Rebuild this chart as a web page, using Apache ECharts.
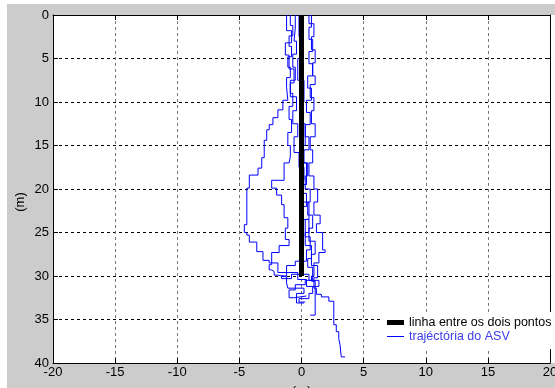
<!DOCTYPE html>
<html>
<head>
<meta charset="utf-8">
<script src="https://cdn.jsdelivr.net/npm/echarts@6/dist/echarts.min.js"></script>
<style>
  html, body { margin: 0; padding: 0; background: #fff; }
  #wrap { position: relative; width: 555px; height: 388px; background: #fff; overflow: hidden; }
  #chart { position: absolute; left: 7px; top: 4px; width: 548px; height: 384px; }
</style>
</head>
<body>
<div id="wrap"><div id="chart"></div></div>
<script>
// ---- data (metres) ----
const xTicks = [-20, -15, -10, -5, 0, 5, 10, 15, 20]
const yTicks = [0, 5, 10, 15, 20, 25, 30, 35, 40]

// linha recta entre os dois pontos
const straightLine = [[0, 0], [0, 30]]

// passagens do ASV
const passLeftOuter = [
  [-0.9, 0], [-0.7, 1.2], [-1.0, 2.4], [-0.8, 3.6], [-1.1, 4.8], [-0.9, 6.0], [-1.2, 7.2],
  [-1.1, 8.3], [-1.5, 9.8], [-1.9, 10.9], [-2.3, 11.8], [-2.6, 12.6], [-2.8, 13.2], [-3.0, 14.4],
  [-3.2, 16.4], [-3.5, 17.6], [-4.2, 18.4], [-4.4, 19.9], [-4.6, 24.1], [-4.4, 25.0], [-4.2, 25.3],
  [-3.6, 26.1], [-3.1, 27.2], [-2.6, 28.2], [-1.9, 28.5], [-0.3, 29.6], [0.4, 30.4], [0.9, 31.2],
  [0.6, 32.0], [-0.2, 32.6], [0.3, 33.0]
]
const passLeftInner = [
  [-0.5, 0], [-0.6, 1.5], [-0.4, 3.0], [-0.7, 4.5], [-0.5, 6.0], [-0.9, 7.5], [-0.7, 9.0],
  [-1.0, 10.5], [-0.8, 12.0], [-1.1, 13.5], [-0.9, 15.0], [-1.0, 16.3], [-1.4, 17.0], [-2.4, 19.0],
  [-2.0, 19.9], [-1.6, 20.7], [-1.4, 21.8], [-1.1, 23.3], [-1.3, 24.5], [-1.0, 25.8], [-1.8, 26.5],
  [-2.4, 27.3], [-2.6, 28.7], [-2.4, 29.3], [-2.2, 29.5], [-1.9, 29.9], [-1.2, 30.1], [-1.1, 30.8],
  [-0.7, 31.4], [0.2, 31.4], [-0.4, 32.0], [-0.4, 33.1], [0.2, 33.1]
]
const passRightEnd = [
  [0.8, 0], [0.6, 1.4], [0.9, 2.8], [0.6, 4.2], [0.9, 5.6], [0.5, 7.0], [0.8, 8.4], [0.4, 9.8],
  [0.7, 11.2], [0.3, 12.6], [0.6, 14.0], [0.2, 15.5], [0.5, 17.0], [0.3, 18.5], [0.7, 20.0],
  [0.5, 21.5], [0.9, 23.0], [0.6, 24.5], [1.1, 26.0], [0.8, 27.5], [1.3, 28.8], [1.0, 30.2],
  [1.2, 31.4], [1.6, 32.1], [2.2, 32.4], [2.6, 32.9], [2.6, 34.3], [2.8, 35.6], [3.0, 36.4],
  [3.1, 37.2], [3.2, 37.9], [3.5, 39.3]
]
const passRight = [
  [0.6, 0], [1.0, 1.0], [0.8, 2.5], [1.1, 4.0], [0.9, 5.5], [1.1, 7.0], [0.7, 8.0], [1.0, 9.5],
  [0.8, 11.0], [1.1, 12.5], [0.7, 14.0], [0.9, 15.5], [0.6, 17.0], [1.0, 18.5], [1.3, 20.0],
  [1.0, 21.5], [1.5, 23.0], [1.2, 24.0], [1.7, 25.0], [1.9, 27.0], [1.4, 27.3], [1.0, 28.5],
  [0.8, 30.0], [1.1, 30.6], [1.1, 34.5], [0.7, 34.5]
]
const passCentreLeft = [
  [-1.2, 0], [-0.8, 1.8], [-1.3, 3.2], [-1.0, 4.6], [-0.6, 6.2], [-0.9, 7.8], [-0.4, 9.4],
  [-0.7, 11.0], [-0.3, 12.5], [-0.6, 14.0], [-0.2, 15.8], [0.2, 17.5], [-0.1, 19.0], [0.4, 20.5],
  [0.1, 22.0], [0.6, 23.5], [0.3, 25.0], [0.8, 26.5], [0.5, 28.0], [0.9, 29.0], [0.3, 30.5],
  [-0.5, 31.0], [-1.0, 31.6], [-0.6, 32.5], [0.4, 32.3]
]
const passCentre = [
  [-0.2, 0], [0.1, 2.5], [-0.3, 5.0], [0.2, 7.5], [-0.1, 10.0], [0.3, 12.5], [0.0, 15.0],
  [0.4, 17.0], [0.1, 19.5], [0.6, 21.5], [0.3, 23.5], [0.7, 25.5], [0.4, 27.0], [-0.5, 28.3],
  [-1.2, 28.8], [-1.6, 30.0], [-0.8, 30.3], [0.6, 29.8], [1.4, 30.5], [0.9, 31.2]
]
const asvPasses = [passLeftOuter, passLeftInner, passRightEnd, passRight, passCentreLeft, passCentre]

const NAME_LINE = 'linha entre os dois pontos'
const NAME_ASV = 'trajéctória do ASV'
const FONT = '"Liberation Sans", Arial, sans-serif'

// ---- chart ----
const chart = echarts.init(document.getElementById('chart'))

const dashed = (color) => ({ show: true, lineStyle: { color: color, type: [3, 3], width: 1 } })
const tickInside = { show: true, inside: true, length: 5, lineStyle: { color: '#000' } }
const solidLine = { show: true, onZero: false, lineStyle: { color: '#000', width: 1 } }

const asvSeries = asvPasses.map((pts) => ({
  name: NAME_ASV,
  type: 'line',
  step: 'start',
  data: pts,
  showSymbol: false,
  symbol: 'none',
  silent: true,
  lineStyle: { color: '#0000ff', width: 1 },
  itemStyle: { color: '#0000ff' },
}))

chart.setOption({
  backgroundColor: '#cccccc',
  animation: false,
  textStyle: { fontFamily: FONT },
  grid: {
    left: 46, top: 11, right: 5, bottom: 25,
    outerBoundsMode: 'none',
    show: true, backgroundColor: '#fff', borderWidth: 0,
  },
  legend: {
    left: 376,
    top: 308,
    orient: 'vertical',
    backgroundColor: '#fff',
    padding: [4, 4, 6, 4],
    itemGap: 1,
    itemWidth: 17,
    itemHeight: 12,
    symbolKeepAspect: true,
    selectedMode: false,
    textStyle: { fontSize: 12.5, fontFamily: FONT },
    data: [
      { name: NAME_LINE, icon: 'path://M0,0H17V5H0Z', itemStyle: { color: '#000' }, textStyle: { color: '#000' } },
      { name: NAME_ASV, icon: 'path://M0,0H17V1H0Z', itemStyle: { color: '#0000ff' }, textStyle: { color: '#3c3cf0' } },
    ],
  },
  xAxis: [
    {
      type: 'value',
      min: xTicks[0],
      max: xTicks[xTicks.length - 1],
      interval: 5,
      position: 'bottom',
      name: '(m)',
      nameLocation: 'middle',
      nameGap: 22,
      nameTextStyle: { fontSize: 13, color: '#000' },
      axisLine: solidLine,
      axisTick: tickInside,
      axisLabel: { fontSize: 13, color: '#000', margin: 3 },
      splitLine: dashed('#777'),
    },
    {
      type: 'value',
      min: xTicks[0],
      max: xTicks[xTicks.length - 1],
      interval: 5,
      position: 'top',
      axisLine: solidLine,
      axisTick: tickInside,
      axisLabel: { show: false },
      splitLine: { show: false },
    },
  ],
  yAxis: [
    {
      type: 'value',
      inverse: true,
      min: yTicks[0],
      max: yTicks[yTicks.length - 1],
      interval: 5,
      position: 'left',
      axisLine: solidLine,
      axisTick: tickInside,
      axisLabel: { fontSize: 13, color: '#000', margin: 4 },
      splitLine: dashed('#000'),
    },
    {
      type: 'value',
      inverse: true,
      min: yTicks[0],
      max: yTicks[yTicks.length - 1],
      interval: 5,
      position: 'right',
      axisLine: solidLine,
      axisTick: tickInside,
      axisLabel: { show: false },
      splitLine: { show: false },
    },
  ],
  graphic: [
    // faixa branca à direita da área dos eixos
    { type: 'rect', left: 544, top: 11, shape: { width: 4, height: 348 }, style: { fill: '#fff' }, silent: true },
    {
      type: 'text',
      x: 13,
      y: 198,
      rotation: Math.PI / 2,
      style: { text: '(m)', font: '13px ' + FONT, fill: '#000', textAlign: 'center', textVerticalAlign: 'middle' },
      silent: true,
    },
  ],
  series: [
    ...asvSeries,
    {
      name: NAME_LINE,
      type: 'line',
      data: straightLine,
      showSymbol: false,
      symbol: 'none',
      silent: true,
      lineStyle: { color: '#000', width: 5 },
      itemStyle: { color: '#000' },
      z: 5,
    },
  ],
})
</script>
</body>
</html>
